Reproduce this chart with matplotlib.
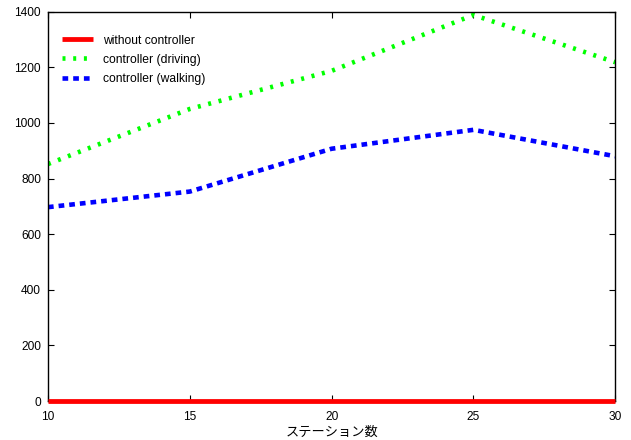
import matplotlib
matplotlib.use("Agg")
import matplotlib.pyplot as plt

stations = [10, 15, 20, 25, 30]
without_ctrl = [0, 0, 0, 0, 0]
ctrl_driving = [852, 1050, 1187, 1388, 1218]
ctrl_walking = [697, 753, 907, 975, 880]

plt.rcParams['font.family'] = ['Liberation Sans', 'DejaVu Sans']
px = 0.72  # points per pixel at dpi 100

fig = plt.figure(figsize=(6.31, 4.40), dpi=100)
ax = fig.add_axes([0.076, 0.0886, 0.899, 0.885])

ax.plot(stations, without_ctrl, color='#ff0000', lw=4.8 * px,
        solid_capstyle='butt', label='without controller', zorder=3, clip_on=False)
lw_g = 4.6 * px
ax.plot(stations, ctrl_driving, color='#00ff00', lw=lw_g,
        linestyle=(0, (3.0 * px / lw_g, 7.7 * px / lw_g)), dash_capstyle='butt',
        label='controller (driving)')
lw_b = 4.6 * px
ax.plot(stations, ctrl_walking, color='#0000ff', lw=lw_b,
        linestyle=(0, (5.7 * px / lw_b, 5.0 * px / lw_b)), dash_capstyle='butt',
        label='controller (walking)')

ax.set_xlim(10, 30)
ax.set_ylim(0, 1400)
ax.set_xticks([10, 15, 20, 25, 30])
ax.set_yticks(range(0, 1401, 200))
ax.tick_params(direction='in', top=True, right=True, labelsize=8.6, length=4, width=0.8)
ax.tick_params(axis='x', pad=7.5)
ax.tick_params(axis='y', pad=5)
for s in ax.spines.values():
    s.set_linewidth(1.0)

ax.set_xlabel('ステーション数', family=['Noto Sans CJK JP', 'DejaVu Sans'], fontsize=9.5, labelpad=1.5)

ax.legend(loc='upper left', frameon=False, fontsize=8.7, handlelength=2.57,
          handletextpad=0.85, labelspacing=0.59, borderaxespad=0.9,
          bbox_to_anchor=(-0.0035, 0.9815))

fig.savefig('out.png', dpi=100)
